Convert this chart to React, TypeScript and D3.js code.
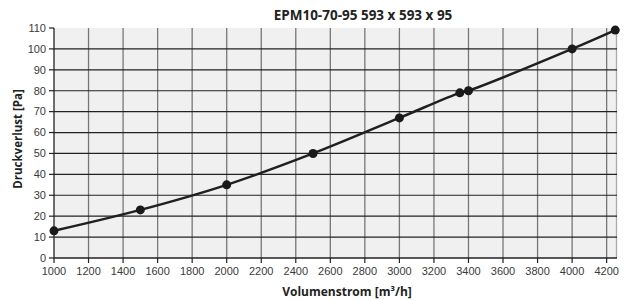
import React from 'react';
import * as d3 from 'd3';

const title = 'EPM10-70-95 593 x 593 x 95';
const xLabel = 'Volumenstrom [m³/h]';
const yLabel = 'Druckverlust [Pa]';

const flow = [1000, 1500, 2000, 2500, 3000, 3350, 3400, 4000, 4250];
const pressure = [13, 23, 35, 50, 67, 79, 80, 100, 109];

const xTicks = d3.range(1000, 4201, 200);
const yTicks = d3.range(0, 111, 10);

const width = 626;
const height = 300;
const margin = { top: 28, right: 9, bottom: 42, left: 54 };

export default function App() {
  const x = d3.scaleLinear().domain([1000, 4260]).range([margin.left, width - margin.right]);
  const y = d3.scaleLinear().domain([0, 110]).range([height - margin.bottom, margin.top]);

  const points = flow.map((f, i) => [f, pressure[i]] as [number, number]);
  const line = d3
    .line<[number, number]>()
    .x(d => x(d[0]))
    .y(d => y(d[1]))
    .curve(d3.curveCatmullRom.alpha(0.5));

  const x0 = x.range()[0];
  const x1 = x.range()[1];
  const y0 = y.range()[0];
  const y1 = y.range()[1];
  const tickFont = { fontFamily: '"Liberation Sans", Arial, sans-serif', fontSize: 11, fill: '#3a3a3a' };
  const boldFont = { fontFamily: '"Open Sans", sans-serif', fontWeight: 700, fill: '#222' };

  return (
    <svg width={width} height={height} style={{ position: 'absolute', left: 0, top: 0 }}>
      <rect x={0} y={0} width={width} height={height} fill="#fff" />
      <rect x={x0} y={y1} width={x1 - x0} height={y0 - y1} fill="#f0f0f0" />

      {/* vertical grid */}
      {xTicks.slice(1).map(t => (
        <line key={'vx' + t} x1={x(t)} x2={x(t)} y1={y1} y2={y0} stroke="#777" strokeWidth={1.3} />
      ))}
      <line x1={x1 - 0.5} x2={x1 - 0.5} y1={y1} y2={y0} stroke="#aaa" strokeWidth={1.3} />

      {/* horizontal grid */}
      {yTicks.slice(1, -1).map(t => (
        <line key={'hy' + t} x1={x0} x2={x1} y1={y(t)} y2={y(t)} stroke="#222" strokeWidth={1.2} />
      ))}

      {/* axes */}
      <line x1={x0} x2={x0} y1={y1} y2={y0} stroke="#222" strokeWidth={1.3} />
      <line x1={x0} x2={x1} y1={y0} y2={y0} stroke="#222" strokeWidth={1.3} />
      {yTicks.map(t => (
        <g key={'yt' + t}>
          <line x1={x0 - 5} x2={x0} y1={y(t)} y2={y(t)} stroke="#222" strokeWidth={1.2} />
          <text x={x0 - 8} y={y(t)} dy="0.35em" textAnchor="end" style={tickFont}>
            {t}
          </text>
        </g>
      ))}
      {xTicks.map(t => (
        <g key={'xt' + t}>
          <line x1={x(t)} x2={x(t)} y1={y0} y2={y0 + 5} stroke="#222" strokeWidth={1.2} />
          <text x={x(t)} y={y0 + 17} textAnchor="middle" style={tickFont}>
            {t}
          </text>
        </g>
      ))}

      {/* data */}
      <path d={line(points) || ''} fill="none" stroke="#231f20" strokeWidth={2.5} />
      {points.map(p => (
        <circle key={p[0]} cx={x(p[0])} cy={y(p[1])} r={4.5} fill="#1a1a1a" />
      ))}

      <text x={363} y={20} textAnchor="middle" style={{ ...boldFont, fontSize: 13.5 }}>
        {title}
      </text>
      <text x={347} y={296} textAnchor="middle" style={{ ...boldFont, fontSize: 12 }}>
        {xLabel}
      </text>
      <text
        transform={`translate(22,${139}) rotate(-90)`}
        textAnchor="middle"
        style={{ ...boldFont, fontSize: 11.5 }}
      >
        {yLabel}
      </text>
    </svg>
  );
}
